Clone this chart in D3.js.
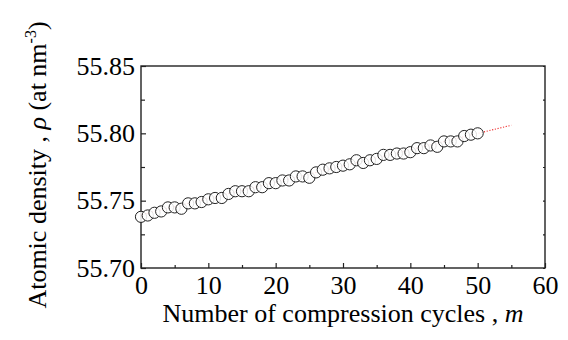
<!DOCTYPE html>
<html>
<head>
<meta charset="utf-8">
<script src="https://cdn.jsdelivr.net/npm/d3@7"></script>
<style>
  body { margin: 0; background: #fff; }
  text { font-family: "Liberation Serif", "Times New Roman", serif; fill: #000; }
</style>
</head>
<body>
<div id="chart"></div>
<script>
// cycles m = 0..50
const cycles = d3.range(0, 51);
const density = [
  55.738, 55.739, 55.741, 55.742, 55.745, 55.745, 55.744, 55.748, 55.748, 55.749,
  55.751, 55.752, 55.752, 55.755, 55.757, 55.757, 55.757, 55.760, 55.760, 55.763,
  55.763, 55.765, 55.765, 55.768, 55.768, 55.767, 55.771, 55.773, 55.774, 55.775,
  55.776, 55.777, 55.780, 55.778, 55.780, 55.781, 55.784, 55.784, 55.785, 55.785,
  55.786, 55.789, 55.789, 55.791, 55.790, 55.794, 55.794, 55.794, 55.798, 55.799,
  55.800
];
// linear fit (red dotted line)
const fitX = [0, 55];
const fitY = [55.7395, 55.806];

const xTicks = [0, 10, 20, 30, 40, 50, 60];
const yTicks = [55.70, 55.75, 55.80, 55.85];

const W = 568, H = 340;
const margin = { top: 66, right: 23, bottom: 72, left: 141 };
const width = W - margin.left - margin.right;
const height = H - margin.top - margin.bottom;
const serif = '"Liberation Serif", "Times New Roman", serif';

const svg = d3.select("#chart").append("svg")
  .attr("width", W)
  .attr("height", H);

const g = svg.append("g")
  .attr("transform", `translate(${margin.left},${margin.top})`);

const x = d3.scaleLinear().domain([0, 60]).range([0, width]);
const y = d3.scaleLinear().domain([55.70, 55.85]).range([height, 0]);

// 軸 (内向き目盛り)
const xAxis = g.append("g")
  .attr("transform", `translate(0,${height})`)
  .call(d3.axisBottom(x).tickValues(xTicks).tickSize(-5).tickPadding(8).tickFormat(d3.format("d")));
const xMinor = g.append("g")
  .attr("transform", `translate(0,${height})`)
  .call(d3.axisBottom(x).tickValues(d3.range(5, 60, 10)).tickSize(-3).tickFormat(""));

const yAxis = g.append("g")
  .call(d3.axisLeft(y).tickValues(yTicks).tickSize(-5).tickPadding(6).tickFormat(d3.format(".2f")));
const yMinor = g.append("g")
  .call(d3.axisLeft(y).tickValues([55.725, 55.775, 55.825]).tickSize(-4).tickFormat(""));

const yRight = g.append("g")
  .attr("transform", `translate(${width},0)`)
  .call(d3.axisRight(y).tickValues(d3.range(55.70, 55.851, 0.025)).tickSize(-2).tickFormat(""));

[xAxis, xMinor, yAxis, yMinor, yRight].forEach(a => {
  a.attr("font-family", serif);
  a.select(".domain").remove();
  a.selectAll("line").attr("stroke", "#222").attr("stroke-width", 1.2);
  a.selectAll("text")
    .style("font-family", serif)
    .style("font-size", "26px")
    .attr("fill", "#000");
});

// 枠
g.append("rect")
  .attr("width", width)
  .attr("height", height)
  .attr("fill", "none")
  .attr("stroke", "#222")
  .attr("stroke-width", 1.4);

// フィット線
g.append("path")
  .datum(fitX.map((d, i) => [d, fitY[i]]))
  .attr("fill", "none")
  .attr("stroke", "#f03030")
  .attr("stroke-width", 1.1)
  .attr("stroke-dasharray", "1.2,1.6")
  .attr("d", d3.line().x(d => x(d[0])).y(d => y(d[1])));

// 点
g.selectAll(".dot")
  .data(cycles)
  .enter()
  .append("circle")
  .attr("class", "dot")
  .attr("cx", d => x(d))
  .attr("cy", (d, i) => y(density[i]))
  .attr("r", 5.6)
  .attr("fill", "#fff")
  .attr("fill-opacity", 0.85)
  .attr("stroke", "#222")
  .attr("stroke-width", 1);

// 軸ラベル
svg.append("text")
  .attr("x", margin.left + width / 2)
  .attr("y", 322)
  .attr("text-anchor", "middle")
  .style("font-family", serif)
  .style("font-size", "26px")
  .html('Number of compression cycles , <tspan font-style="italic">m</tspan>');

svg.append("text")
  .attr("transform", `translate(46,${margin.top + height / 2 - 2}) rotate(-90)`)
  .attr("text-anchor", "middle")
  .style("font-family", serif)
  .style("font-size", "26px")
  .html('Atomic density , <tspan font-style="italic">ρ</tspan> (at nm<tspan dy="-10" font-size="16px">-3</tspan><tspan dy="10">)</tspan>');
</script>
</body>
</html>
